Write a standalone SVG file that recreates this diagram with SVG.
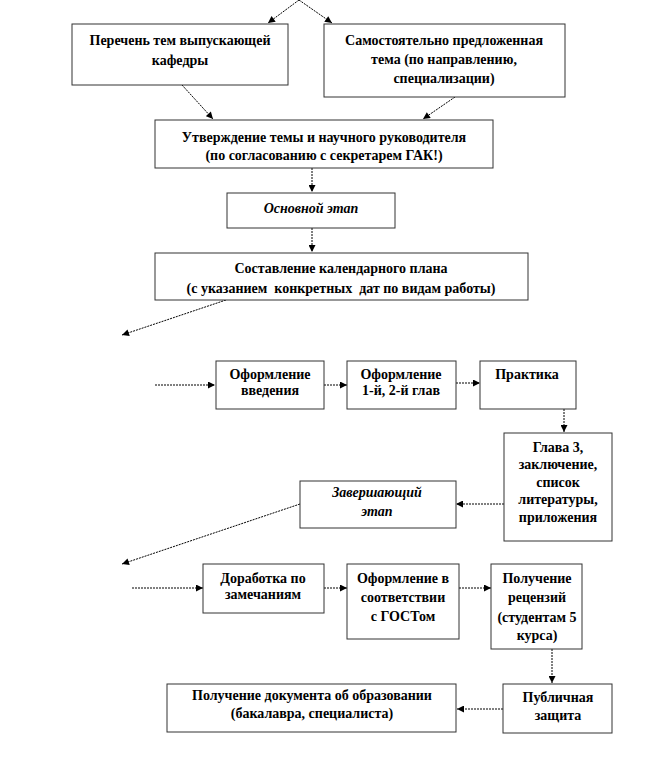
<svg xmlns="http://www.w3.org/2000/svg" width="660" height="769" viewBox="0 0 660 769">
<defs>
<marker id="ah" viewBox="0 0 10 10" refX="10" refY="5" markerWidth="8" markerHeight="7" markerUnits="userSpaceOnUse" orient="auto">
<path d="M0,0 L10,5 L0,10 z" fill="#000"/>
</marker>
<style>
.box{fill:#fff;stroke:#333;stroke-width:1}
.t{font-weight:bold;font-size:14px;fill:#000;text-anchor:middle}
.i{font-style:italic}
.c{fill:none;stroke:#000;stroke-width:1;stroke-dasharray:2 1;marker-end:url(#ah)}
</style>
</defs>
<rect width="660" height="769" fill="#fff"/>
<g id="connectors">
<path class="c" d="M299,0 L268,23"/>
<path class="c" d="M299,0 L332,23"/>
<path class="c" d="M182,85 L213,119"/>
<path class="c" d="M455,97 L423,119"/>
<path class="c" d="M312,168 L312,192"/>
<path class="c" d="M312,228 L312,252"/>
<path class="c" d="M226,300 L122,335"/>
<path class="c" d="M155,385 L215,385"/>
<path class="c" d="M324,385 L347,385"/>
<path class="c" d="M456,383 L480,383"/>
<path class="c" d="M564,409 L564,432"/>
<path class="c" d="M504,504 L456,504"/>
<path class="c" d="M300,504 L122,564"/>
<path class="c" d="M132,588 L203,588"/>
<path class="c" d="M324,588 L347,588"/>
<path class="c" d="M459,588 L491,588"/>
<path class="c" d="M552,649 L552,683"/>
<path class="c" d="M503,709 L457,709"/>
</g>
<g font-family="Liberation Serif, Times New Roman, serif">
<g id="n1"><rect class="box" x="72" y="24" width="216" height="61"/>
<text class="t" x="180" y="45">Перечень тем выпускающей</text><text class="t" x="180" y="65">кафедры</text></g>
<g id="n2"><rect class="box" x="324" y="24" width="241" height="73"/>
<text class="t" x="444" y="45">Самостоятельно предложенная</text><text class="t" x="444" y="64">тема (по направлению,</text><text class="t" x="444" y="83">специализации)</text></g>
<g id="n3"><rect class="box" x="155" y="120" width="338" height="48"/>
<text class="t" x="324" y="142">Утверждение темы и научного руководителя</text><text class="t" x="324" y="160">(по согласованию с секретарем ГАК!)</text></g>
<g id="n4"><rect class="box" x="227" y="193" width="168" height="35"/>
<text class="t i" x="311" y="213">Основной этап</text></g>
<g id="n5"><rect class="box" x="155" y="253" width="373" height="47"/>
<text class="t" x="341" y="273">Составление календарного плана</text><text class="t" x="341" y="293" xml:space="preserve">(с указанием  конкретных  дат по видам работы)</text></g>
<g id="n6"><rect class="box" x="216" y="361" width="108" height="48"/>
<text class="t" x="270" y="379">Оформление</text><text class="t" x="270" y="395">введения</text></g>
<g id="n7"><rect class="box" x="347" y="361" width="109" height="48"/>
<text class="t" x="401" y="379">Оформление</text><text class="t" x="401" y="395">1-й, 2-й глав</text></g>
<g id="n8"><rect class="box" x="480" y="361" width="96" height="48"/>
<text class="t" x="527" y="379">Практика</text></g>
<g id="n9"><rect class="box" x="504" y="433" width="108" height="108"/>
<text class="t" x="558" y="452">Глава 3,</text><text class="t" x="558" y="469">заключение,</text><text class="t" x="558" y="487">список</text><text class="t" x="558" y="504">литературы,</text><text class="t" x="558" y="522">приложения</text></g>
<g id="n10"><rect class="box" x="300" y="481" width="156" height="47"/>
<text class="t i" x="377" y="497">Завершающий</text><text class="t i" x="377" y="516">этап</text></g>
<g id="n11"><rect class="box" x="203" y="564" width="121" height="49"/>
<text class="t" x="263" y="583">Доработка по</text><text class="t" x="263" y="599">замечаниям</text></g>
<g id="n12"><rect class="box" x="347" y="564" width="112" height="75"/>
<text class="t" x="403" y="583">Оформление в</text><text class="t" x="403" y="602">соответствии</text><text class="t" x="403" y="621">с ГОСТом</text></g>
<g id="n13"><rect class="box" x="491" y="564" width="91" height="85"/>
<text class="t" x="537" y="583">Получение</text><text class="t" x="537" y="602">рецензий</text><text class="t" x="537" y="622">(студентам 5</text><text class="t" x="537" y="640">курса)</text></g>
<g id="n14"><rect class="box" x="503" y="684" width="109" height="49"/>
<text class="t" x="558" y="702">Публичная</text><text class="t" x="558" y="720">защита</text></g>
<g id="n15"><rect class="box" x="167" y="684" width="289" height="48"/>
<text class="t" x="312" y="700">Получение документа об образовании</text><text class="t" x="312" y="718">(бакалавра, специалиста)</text></g>
</g>
</svg>
